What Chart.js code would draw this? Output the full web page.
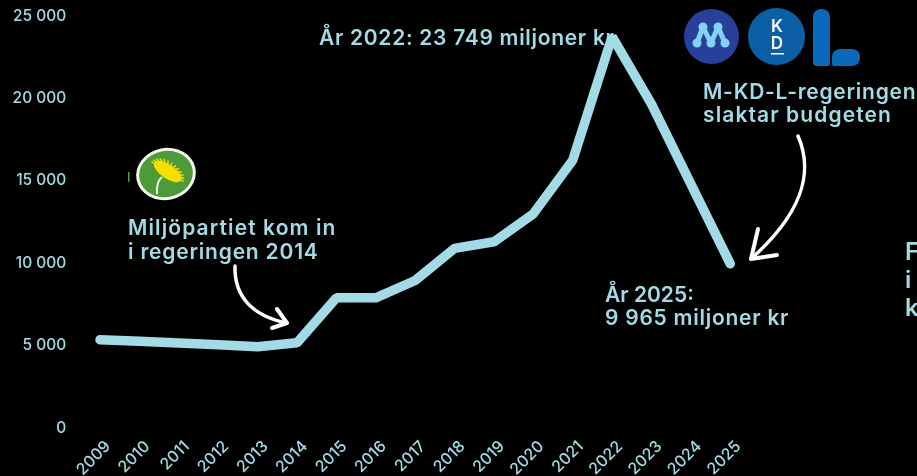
<!DOCTYPE html>
<html lang="sv">
<head>
<meta charset="utf-8">
<title>Budget 2009-2025</title>
<script src="https://cdn.jsdelivr.net/npm/chart.js@4"></script>
<style>
  html, body { margin: 0; padding: 0; background: #000; overflow: hidden; }
  #wrap { position: relative; width: 917px; height: 476px; }
</style>
</head>
<body>
<div id="wrap"><canvas id="chart" width="917" height="476"></canvas></div>
<script>
// values, miljoner kr
const years = ['2009','2010','2011','2012','2013','2014','2015','2016','2017','2018','2019','2020','2021','2022','2023','2024','2025'];
const budget = [5350,5260,5160,5050,4930,5170,7900,7900,8950,10900,11300,13000,16250,23749,19650,14800,9965];

const accent = '#a2dbe5';
const fontName = 'Inter, "Open Sans", sans-serif';

function fmtTick(v) {
    return v === 0 ? '0' : String(v).replace(/\B(?=(\d{3})+$)/g, ' ');
}

function label(ctx, text, x, y, size, spacing) {
    ctx.font = '600 ' + size + 'px ' + fontName;
    ctx.letterSpacing = spacing + 'px';
    ctx.fillStyle = accent;
    ctx.textAlign = 'left';
    ctx.textBaseline = 'alphabetic';
    ctx.fillText(text, x, y);
    ctx.letterSpacing = '0px';
}

function arrow(ctx, pts, head) {
    ctx.strokeStyle = '#fff';
    ctx.lineWidth = 3.5;
    ctx.lineCap = 'round';
    ctx.lineJoin = 'round';
    ctx.beginPath();
    ctx.moveTo(pts[0], pts[1]);
    ctx.bezierCurveTo(pts[2], pts[3], pts[4], pts[5], pts[6], pts[7]);
    ctx.stroke();
    ctx.lineWidth = 4;
    ctx.beginPath();
    ctx.moveTo(head[0], head[1]);
    ctx.lineTo(pts[6], pts[7]);
    ctx.lineTo(head[2], head[3]);
    ctx.stroke();
}

function drawMpLogo(ctx) {
    ctx.fillStyle = '#4f9e3b';
    ctx.fillRect(128, 172, 1.5, 10);
    ctx.save();
    ctx.translate(166, 174);
    ctx.beginPath();
    ctx.ellipse(0, 0, 30, 26, -0.2, 0, Math.PI * 2);
    ctx.fillStyle = '#f4f8ee';
    ctx.fill();
    ctx.beginPath();
    ctx.ellipse(0, 0, 27, 23, -0.2, 0, Math.PI * 2);
    ctx.fillStyle = '#4e9a3a';
    ctx.fill();
    // stem
    ctx.strokeStyle = '#f4f8ee';
    ctx.lineWidth = 2;
    ctx.beginPath();
    ctx.moveTo(-9, 20);
    ctx.quadraticCurveTo(-10, 8, -4, 3);
    ctx.stroke();
    // dandelion head
    ctx.rotate(0.6);
    ctx.fillStyle = '#f7dd00';
    ctx.beginPath();
    ctx.ellipse(0, -3, 16, 7, 0, 0, Math.PI * 2);
    ctx.fill();
    ctx.strokeStyle = '#f7dd00';
    ctx.lineWidth = 1.5;
    for (let a = Math.PI; a < Math.PI * 2; a += 0.25) {
        ctx.beginPath();
        ctx.moveTo(0, -3);
        ctx.lineTo(Math.cos(a) * 19, Math.sin(a) * 11 - 2);
        ctx.stroke();
    }
    ctx.restore();
}

function drawGovLogos(ctx) {
    // M
    ctx.fillStyle = '#28409a';
    ctx.beginPath();
    ctx.arc(711.5, 36.5, 27.5, 0, Math.PI * 2);
    ctx.fill();
    const nodes = [[697, 43], [703, 27], [711, 43], [718, 27], [725, 43]];
    ctx.strokeStyle = '#82d2f6';
    ctx.fillStyle = '#82d2f6';
    ctx.lineWidth = 5;
    ctx.lineJoin = 'round';
    ctx.beginPath();
    nodes.forEach((n, i) => i ? ctx.lineTo(n[0], n[1]) : ctx.moveTo(n[0], n[1]));
    ctx.stroke();
    nodes.forEach(n => {
        ctx.beginPath();
        ctx.arc(n[0], n[1], 4.5, 0, Math.PI * 2);
        ctx.fill();
    });
    // KD
    ctx.fillStyle = '#0a5fa5';
    ctx.beginPath();
    ctx.arc(776.5, 36.5, 28.5, 0, Math.PI * 2);
    ctx.fill();
    ctx.fillStyle = '#fff';
    ctx.font = '600 17px ' + fontName;
    ctx.textAlign = 'center';
    ctx.textBaseline = 'alphabetic';
    ctx.fillText('K', 777, 32);
    ctx.fillText('D', 777, 49);
    ctx.fillRect(771, 53, 13, 1.5);
    // L
    ctx.fillStyle = '#0a69b8';
    ctx.beginPath();
    ctx.roundRect(813, 9, 17, 57, [8, 8, 2, 4]);
    ctx.fill();
    ctx.beginPath();
    ctx.roundRect(832, 49, 28, 17, [8, 8, 8, 2]);
    ctx.fill();
}

// notes sit under the line, the "kr" of the 2022 note is partly hidden by the peak
const notesPlugin = {
    id: 'notes',
    beforeDatasetsDraw(chart) {
        const ctx = chart.ctx;
        ctx.save();
        label(ctx, 'År 2022: 23 749 miljoner kr', 319, 45, 21, 0.7);
        label(ctx, 'Miljöpartiet kom in', 128, 235, 21, 1.1);
        label(ctx, 'i regeringen 2014', 128, 259, 21, 0.8);
        label(ctx, 'M-KD-L-regeringen', 703, 99, 21, 0.75);
        label(ctx, 'slaktar budgeten', 703, 122, 21, 1.1);
        label(ctx, 'År 2025:', 605, 302, 21, 0);
        label(ctx, '9 965 miljoner kr', 605, 325, 21, 0.75);
        label(ctx, 'F', 905, 260, 24, 0);
        label(ctx, 'i', 905, 288, 24, 0);
        label(ctx, 'k', 905, 316, 24, 0);
        drawMpLogo(ctx);
        drawGovLogos(ctx);
        arrow(ctx, [235, 266, 234, 296, 252, 316, 287, 323], [277, 309, 272, 328]);
        arrow(ctx, [798, 136, 815, 175, 800, 215, 751, 259], [758, 229, 777, 255]);
        ctx.restore();
    }
};

new Chart(document.getElementById('chart'), {
    type: 'line',
    data: {
        labels: years,
        datasets: [{
            data: budget,
            borderColor: accent,
            borderWidth: 9.5,
            borderCapStyle: 'round',
            borderJoinStyle: 'bevel',
            pointRadius: 0,
            tension: 0,
            clip: false
        }]
    },
    options: {
        responsive: false,
        animation: false,
        layout: { padding: { top: 16, right: 167, left: 0, bottom: 0 } },
        plugins: { legend: { display: false }, tooltip: { enabled: false } },
        scales: {
            x: {
                offset: true,
                grid: { display: false },
                border: { display: false },
                afterFit: s => { s.height = 48; },
                ticks: {
                    color: accent,
                    font: { family: fontName, size: 16, weight: 500 },
                    minRotation: 45,
                    maxRotation: 45,
                    autoSkip: false,
                    labelOffset: 8,
                    padding: 1
                }
            },
            y: {
                min: 0,
                max: 25000,
                grid: { display: false },
                border: { display: false },
                afterFit: s => { s.width = 80.3; },
                ticks: {
                    color: accent,
                    stepSize: 5000,
                    padding: 6,
                    font: { family: fontName, size: 15.5, weight: 500 },
                    callback: fmtTick
                }
            }
        }
    },
    plugins: [notesPlugin]
});
</script>
</body>
</html>
